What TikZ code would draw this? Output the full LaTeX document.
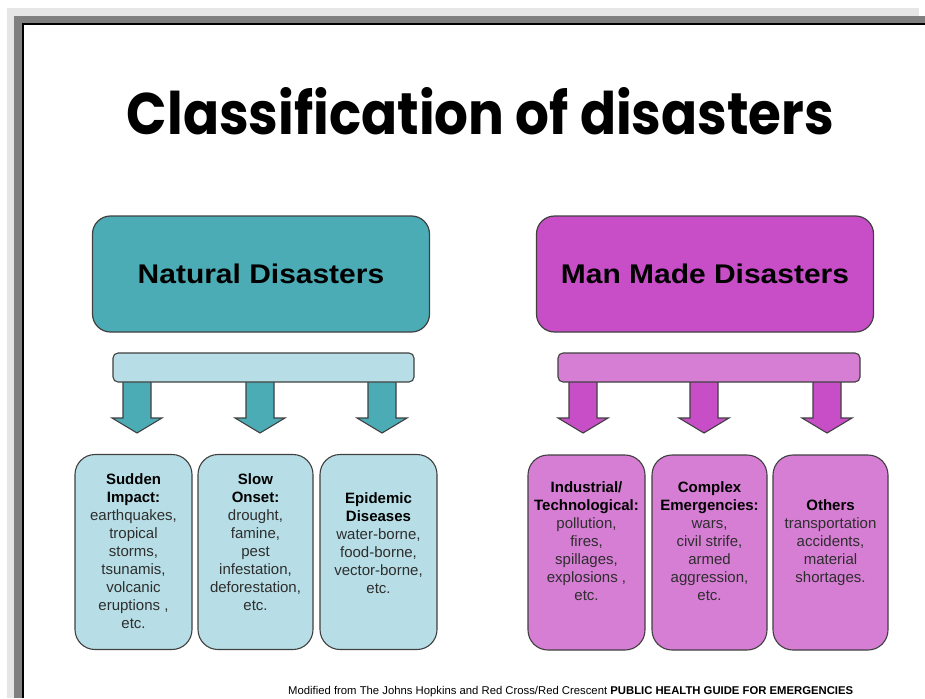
\documentclass[tikz,border=0pt]{standalone}
\usepackage{fontspec}
\setmainfont{Liberation Sans}
\newfontfamily\titlefont{Poppins}
\newfontfamily\bigfont[FakeStretch=1.11]{Liberation Sans}
\definecolor{teal1}{HTML}{4BACB6}
\definecolor{teallt}{HTML}{B7DEE6}
\definecolor{mag1}{HTML}{C84EC8}
\definecolor{maglt}{HTML}{D67DD4}
\definecolor{edge}{HTML}{404040}
\definecolor{frameLt}{HTML}{E6E6E6}
\definecolor{frameDk}{HTML}{808080}
\definecolor{bodytxt}{HTML}{2E2E2E}
\begin{document}
\begin{tikzpicture}[x=1pt,y=-1pt,
  bigbox/.style={draw=edge,line width=1.2pt,rounded corners=18pt,minimum width=337pt,minimum height=116pt,inner sep=0pt,font=\bigfont\fontsize{27}{30}\selectfont\bfseries},
  barbox/.style={draw=edge,line width=1.1pt,rounded corners=5pt,minimum height=29pt,inner sep=0pt},
  subbox/.style={draw=edge,line width=1.1pt,rounded corners=20pt,minimum height=195pt,inner sep=0pt},
  txt/.style={align=center,text=bodytxt,font=\fontsize{15}{18}\selectfont,inner sep=0pt},
  blockarrow/.style={draw=edge,line width=1.1pt,line join=miter}
]
\useasboundingbox (0,0) rectangle (925,698);
\fill[white] (0,0) rectangle (925,698);
% frame
\fill[frameLt] (7,8) rectangle (919,698);
\fill[frameDk] (14,16) rectangle (925,698);
\fill[black] (22,23.5) rectangle (925,698);
\fill[white] (24,25) rectangle (925,698);

% title
\node[anchor=base,inner sep=0pt] (title) at (480.5,134) {\resizebox{707pt}{47pt}{\titlefont\bfseries Classification of disasters}};

% big boxes
\node[bigbox,fill=teal1] (nat) at (261,274) {Natural Disasters};
\node[bigbox,fill=mag1] (man) at (705,274) {Man Made Disasters};

% arrows (drawn before bars)
\foreach \cx/\col/\nm in {137/teal1/an1,260/teal1/an2,382/teal1/an3,583/mag1/am1,704/mag1/am2,827/mag1/am3}{
  \coordinate (\nm) at (\cx,433);
  \draw[blockarrow,fill=\col] (\cx-14,380) -- (\cx-14,418) -- (\cx-25,418) -- (\nm) -- (\cx+25,418) -- (\cx+14,418) -- (\cx+14,380) -- cycle;
}

% bars
\node[barbox,fill=teallt,minimum width=301pt] (natbar) at (263.5,367.5) {};
\node[barbox,fill=maglt,minimum width=302pt] (manbar) at (709,367.5) {};

% sub boxes
\node[subbox,fill=teallt,minimum width=117pt] (n1) at (133.5,552) {};
\node[subbox,fill=teallt,minimum width=115pt] (n2) at (255.5,552) {};
\node[subbox,fill=teallt,minimum width=117pt] (n3) at (378.5,552) {};
\node[subbox,fill=maglt,minimum width=117pt] (m1) at (586.5,552.5) {};
\node[subbox,fill=maglt,minimum width=115pt] (m2) at (709.5,552.5) {};
\node[subbox,fill=maglt,minimum width=115pt] (m3) at (830.5,552.5) {};

% texts
\node[txt] (tn1) at (133.5,551) {\textcolor{black}{\textbf{Sudden}}\\\textcolor{black}{\textbf{Impact:}}\\earthquakes,\\tropical\\storms,\\tsunamis,\\volcanic\\eruptions ,\\etc.};
\node[txt] (tn2) at (255.5,542.5) {\textcolor{black}{\textbf{Slow}}\\\textcolor{black}{\textbf{Onset:}}\\drought,\\famine,\\pest\\infestation,\\deforestation,\\etc.};
\node[txt] (tn3) at (378.5,543) {\textcolor{black}{\textbf{Epidemic}}\\\textcolor{black}{\textbf{Diseases}}\\water-borne,\\food-borne,\\vector-borne,\\etc.};
\node[txt] (tm1) at (586.5,541.5) {\textcolor{black}{\textbf{Industrial/}}\\\textcolor{black}{\textbf{Technological:}}\\pollution,\\fires,\\spillages,\\explosions ,\\etc.};
\node[txt] (tm2) at (709.5,541.5) {\textcolor{black}{\textbf{Complex}}\\\textcolor{black}{\textbf{Emergencies:}}\\wars,\\civil strife,\\armed\\aggression,\\etc.};
\node[txt] (tm3) at (830.5,543) {\textcolor{black}{\textbf{Others}}\\transportation\\accidents,\\material\\shortages.};

% footer
\node[anchor=base west,inner sep=0pt,font=\fontsize{11.3}{13}\selectfont] (foot) at (288,694) {Modified from The Johns Hopkins and Red Cross/Red Crescent \textbf{PUBLIC HEALTH GUIDE FOR EMERGENCIES}};
\end{tikzpicture}
\end{document}
